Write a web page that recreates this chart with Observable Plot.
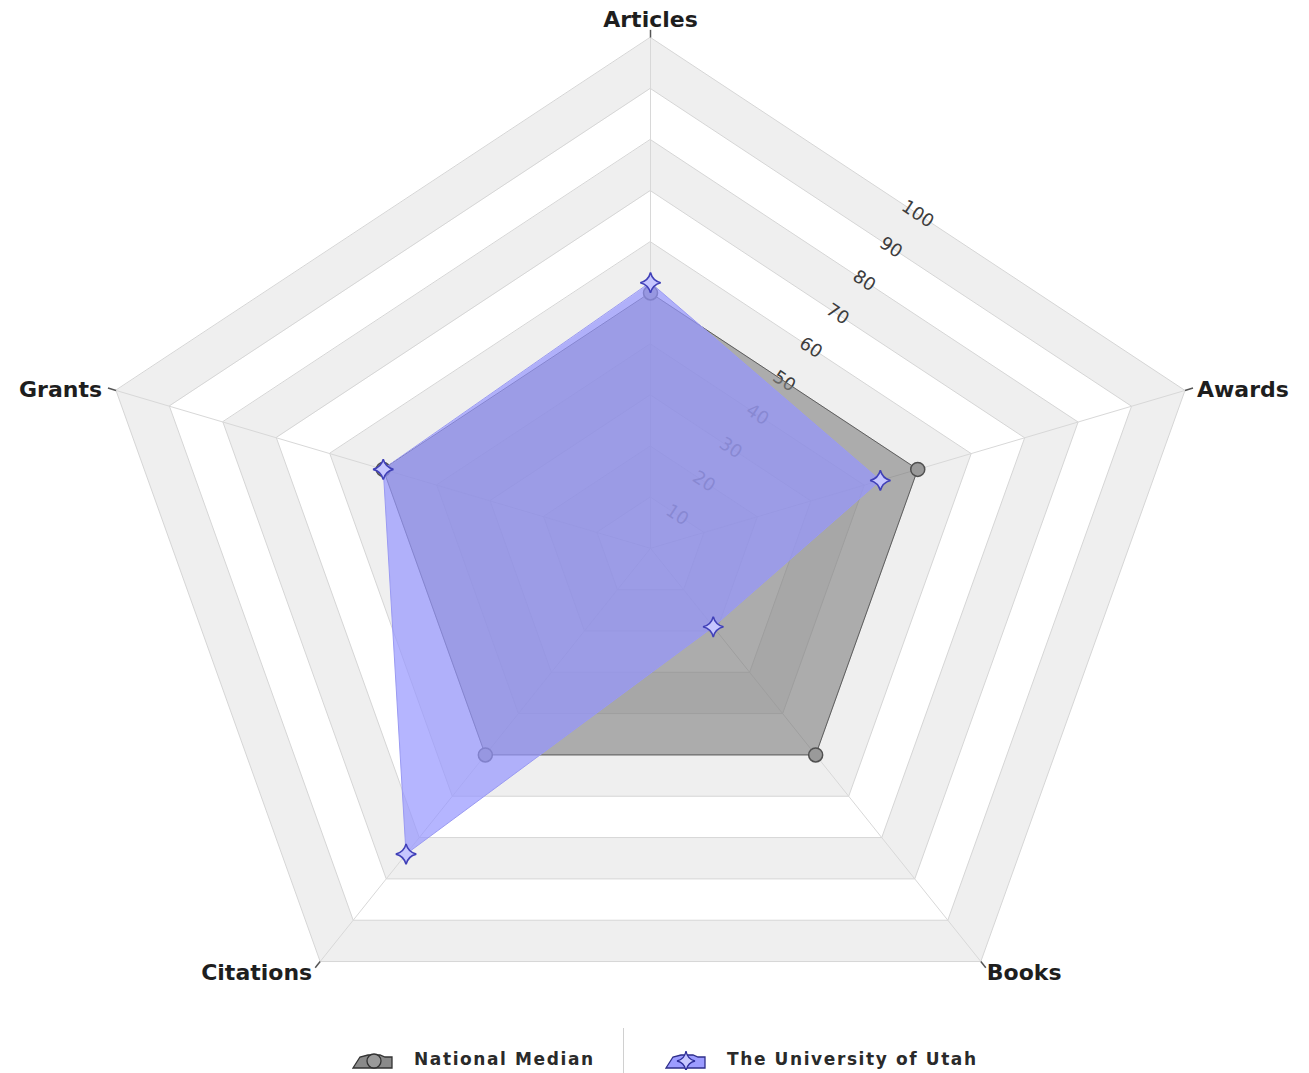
<!DOCTYPE html>
<html>
<head>
<meta charset="utf-8">
<script src="https://cdn.jsdelivr.net/npm/d3@7"></script>
<script src="https://cdn.jsdelivr.net/npm/@observablehq/plot@0.6"></script>
<style>
  html, body { margin: 0; padding: 0; background: #fff; }
  #wrap { position: relative; width: 1309px; height: 1073px; overflow: hidden; }
  #legend { position: absolute; left: 0; top: 1028px; width: 1309px; height: 45px; font-family: "DejaVu Sans", Verdana, sans-serif; }
  .item { position: absolute; top: 0; height: 45px; display: flex; align-items: center; margin-top: 8px; }
  .item span { font-size: 17px; font-weight: bold; letter-spacing: 1.6px; color: #2a2a2a; margin-left: 20px; }
  #sep { position: absolute; left: 623px; top: 0; width: 1px; height: 45px; background: #d0d0d0; }
</style>
</head>
<body>
<div id="wrap">
  <div id="chart"></div>
  <div id="legend">
    <div class="item" style="left:352px">
      <svg width="42" height="22" viewBox="0 0 42 22">
        <path d="M1 20 L8 9 L16 7 L28 7 L33 9 L40 9 L40 20 Z" fill="#8a8a8a" stroke="#333" stroke-width="1.3"/>
        <circle cx="22" cy="13" r="7" fill="#9a9a9a" stroke="#333" stroke-width="1.3"/>
      </svg>
      <span>National Median</span>
    </div>
    <div id="sep"></div>
    <div class="item" style="left:665px">
      <svg width="42" height="22" viewBox="0 0 42 22">
        <path d="M1 20 L8 9 L16 7 L28 7 L33 9 L40 9 L40 20 Z" fill="#9c9cff" stroke="#2e2e8a" stroke-width="1.3"/>
        <path d="M21 3 Q22.5 11.5 30 13 Q22.5 14.5 21 23 Q19.5 14.5 12 13 Q19.5 11.5 21 3 Z" fill="#c8c8ff" stroke="#2e2e9a" stroke-width="1.3"/>
      </svg>
      <span>The University of Utah</span>
    </div>
  </div>
</div>
<script>
// ---------- data ----------
const categories = ["Articles", "Awards", "Books", "Citations", "Grants"];
const nationalMedian = [50, 50, 50, 50, 50];
const utahValues = [52, 43, 19, 74, 50];
const ringLevels = [10, 20, 30, 40, 50, 60, 70, 80, 90, 100];
const tickLabels = ["10", "20", "30", "40", "50", "60", "70", "80", "90", "100"];
const seriesNames = ["National Median", "The University of Utah"];

// ---------- geometry helpers ----------
const N = categories.length;
const ang = i => i * 2 * Math.PI / N;
const px = (i, v) => (v / 100) * Math.sin(ang(i));
const py = (i, v) => (v / 100) * Math.cos(ang(i));

const W = 1309, H = 1030;
const cxPix = 650, cyPix = 547.8, rxPix = 562, ryPix = 510.8;
const xDomain = [-cxPix / rxPix, (W - cxPix) / rxPix];
const yDomain = [-(H - cyPix) / ryPix, cyPix / ryPix];

// 4-pointed star symbol
const star4 = {
  draw(ctx, size) {
    const R = Math.sqrt(size / Math.PI) * 1.2;
    const q = R * 0.2;
    ctx.moveTo(0, -R);
    ctx.quadraticCurveTo(q, -q, R, 0);
    ctx.quadraticCurveTo(q, q, 0, R);
    ctx.quadraticCurveTo(-q, q, -R, 0);
    ctx.quadraticCurveTo(-q, -q, 0, -R);
    ctx.closePath();
  }
};

const marks = [];

// rings (outer first), alternating grey / white bands
const levelsDesc = ringLevels.slice().sort((a, b) => b - a);
levelsDesc.forEach((lv, k) => {
  const pts = categories.map((c, i) => ({ x: px(i, lv), y: py(i, lv) }));
  marks.push(Plot.line(pts, {
    x: "x", y: "y", curve: "linear-closed",
    fill: k % 2 === 0 ? "#efefef" : "#ffffff",
    stroke: "#d6d6d6", strokeWidth: 1
  }));
});

// spokes
const spokeData = categories.map((c, i) => ({ i }));
marks.push(Plot.link(spokeData, {
  x1: 0, y1: 0,
  x2: d => px(d.i, 100), y2: d => py(d.i, 100),
  stroke: "#d8d8d8", strokeWidth: 1
}));
// small tick at each axis end
marks.push(Plot.link(spokeData, {
  x1: d => px(d.i, 100), y1: d => py(d.i, 100),
  x2: d => px(d.i, 101.5), y2: d => py(d.i, 101.5),
  stroke: "#555", strokeWidth: 1.5
}));

// radial tick labels along the Articles–Awards edge midpoints
marks.push(Plot.text(ringLevels.map((v, k) => ({ v, label: tickLabels[k] })), {
  x: d => (px(0, d.v) + px(1, d.v)) / 2,
  y: d => (py(0, d.v) + py(1, d.v)) / 2,
  text: "label", rotate: 33.4,
  fill: "#3c3c3c", fontSize: 18, fontFamily: "DejaVu Sans, Verdana, sans-serif"
}));

// series
const medData = categories.map((c, i) => ({ i, cat: c, v: nationalMedian[i] }));
const utahData = categories.map((c, i) => ({ i, cat: c, v: utahValues[i] }));

marks.push(Plot.line(medData, {
  x: d => px(d.i, d.v), y: d => py(d.i, d.v), curve: "linear-closed",
  fill: "#808080", fillOpacity: 0.65, stroke: "#5e5e5e", strokeWidth: 1
}));
marks.push(Plot.dot(medData, {
  x: d => px(d.i, d.v), y: d => py(d.i, d.v),
  r: 7, fill: "#9a9a9a", stroke: "#505050", strokeWidth: 1.5
}));
marks.push(Plot.line(utahData, {
  x: d => px(d.i, d.v), y: d => py(d.i, d.v), curve: "linear-closed",
  fill: "#9696ff", fillOpacity: 0.7, stroke: "#9a9af2", strokeWidth: 1
}));
marks.push(Plot.dot(utahData, {
  x: d => px(d.i, d.v), y: d => py(d.i, d.v),
  r: 8.5, symbol: star4, fill: "#c6c6ff", stroke: "#4040b8", strokeWidth: 1.6
}));

// category labels
const labelFont = { fontSize: 22, fontWeight: "bold", fill: "#1e1e1e", fontFamily: "DejaVu Sans, Verdana, sans-serif" };
const lab = (idx, opts) => Plot.text([idx], {
  x: i => px(i, 100), y: i => py(i, 100), text: i => categories[i], ...labelFont, ...opts
});
marks.push(lab(0, { textAnchor: "middle", dy: -18 }));
marks.push(lab(1, { textAnchor: "start", dx: 12, dy: -1 }));
marks.push(lab(2, { textAnchor: "start", dx: 6, dy: 11 }));
marks.push(lab(3, { textAnchor: "end", dx: -8, dy: 11 }));
marks.push(lab(4, { textAnchor: "end", dx: -14, dy: -1 }));

const chart = Plot.plot({
  width: W, height: H,
  marginTop: 0, marginRight: 0, marginBottom: 0, marginLeft: 0,
  x: { domain: xDomain, axis: null },
  y: { domain: yDomain, axis: null },
  style: { background: "#fff", overflow: "visible", fontFamily: "DejaVu Sans, Verdana, sans-serif" },
  marks
});
document.getElementById("chart").appendChild(chart);
</script>
</body>
</html>
